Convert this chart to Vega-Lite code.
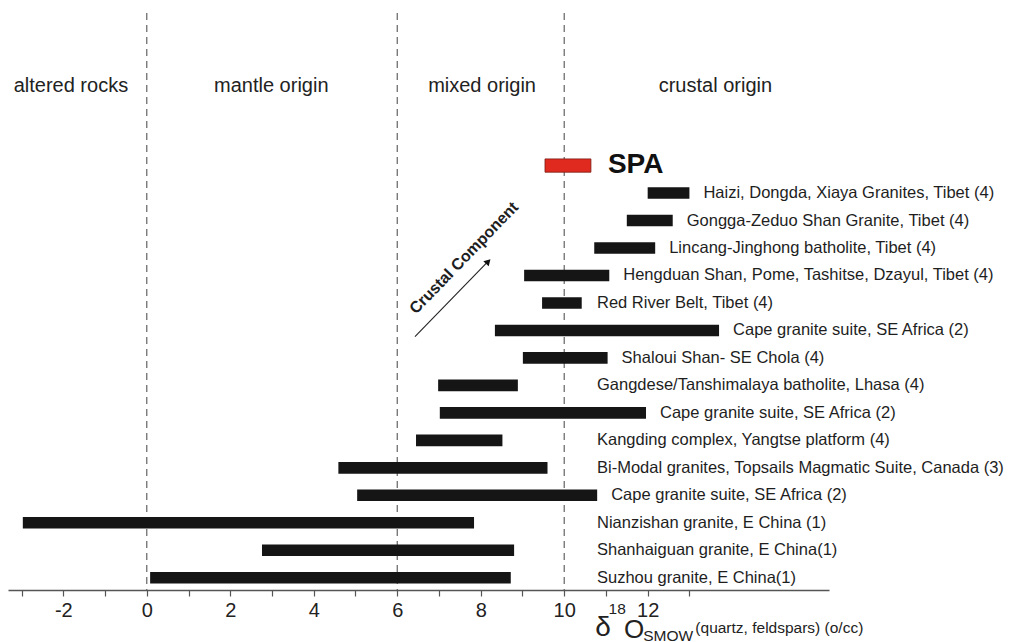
{
  "$schema": "https://vega.github.io/schema/vega-lite/v6.json",
  "width": 821,
  "height": 577,
  "autosize": "none",
  "padding": {"left": 8, "top": 13, "right": 182, "bottom": 52},
  "background": "white",
  "config": {
    "font": "Liberation Sans",
    "view": {"stroke": null}
  },
  "data": {
    "values": [
      {"id": 0, "label": "SPA", "lo": 9.54, "hi": 10.64},
      {"id": 1, "label": "Haizi, Dongda, Xiaya Granites, Tibet (4)", "lo": 12.0, "hi": 13.0},
      {"id": 2, "label": "Gongga-Zeduo Shan Granite, Tibet (4)", "lo": 11.5, "hi": 12.6},
      {"id": 3, "label": "Lincang-Jinghong batholite, Tibet (4)", "lo": 10.72, "hi": 12.18},
      {"id": 4, "label": "Hengduan Shan, Pome, Tashitse, Dzayul, Tibet (4)", "lo": 9.04, "hi": 11.08},
      {"id": 5, "label": "Red River Belt, Tibet (4)", "lo": 9.47, "hi": 10.42},
      {"id": 6, "label": "Cape granite suite, SE Africa (2)", "lo": 8.34, "hi": 13.71},
      {"id": 7, "label": "Shaloui Shan- SE Chola (4)", "lo": 9.01, "hi": 11.04},
      {"id": 8, "label": "Gangdese/Tanshimalaya batholite, Lhasa (4)", "lo": 6.98, "hi": 8.89},
      {"id": 9, "label": "Cape granite suite, SE Africa (2)", "lo": 7.02, "hi": 11.96},
      {"id": 10, "label": "Kangding complex, Yangtse platform (4)", "lo": 6.45, "hi": 8.52},
      {"id": 11, "label": "Bi-Modal granites, Topsails Magmatic Suite, Canada (3)", "lo": 4.59, "hi": 9.6},
      {"id": 12, "label": "Cape granite suite, SE Africa (2)", "lo": 5.04, "hi": 10.79},
      {"id": 13, "label": "Nianzishan granite, E China (1)", "lo": -2.97, "hi": 7.84},
      {"id": 14, "label": "Shanhaiguan granite, E China(1)", "lo": 2.76, "hi": 8.8},
      {"id": 15, "label": "Suzhou granite, E China(1)", "lo": 0.08, "hi": 8.72}
    ]
  },
  "resolve": {"axis": {"x": "independent"}},
  "layer": [
    {
      "description": "Dashed boundaries between origin fields, with the field names on a top axis",
      "data": {"values": [{"boundary": 0}, {"boundary": 6}, {"boundary": 10}]},
      "mark": {"type": "rule", "strokeDash": [7, 5], "color": "#555555", "strokeWidth": 1.1},
      "encoding": {
        "x": {
          "field": "boundary",
          "type": "quantitative",
          "scale": {"domain": [-3.325, 16.344], "nice": false, "zero": false},
          "axis": {
            "orient": "top",
            "values": [-1.83, 2.97, 8.02, 13.61],
            "labelExpr": "datum.value < 0 ? 'altered rocks' : datum.value < 5 ? 'mantle origin' : datum.value < 10 ? 'mixed origin' : 'crustal origin'",
            "ticks": false,
            "domain": false,
            "grid": false,
            "title": null,
            "offset": -78,
            "labelPadding": 0,
            "labelBaseline": "alphabetic",
            "labelAlign": "center",
            "labelFontSize": 20,
            "labelColor": "#222222",
            "labelFlush": false,
            "labelOverlap": false,
            "labelBound": false
          }
        }
      }
    },
    {
      "description": "Published ranges",
      "transform": [{"filter": "datum.id > 0"}],
      "mark": {"type": "bar", "color": "#151515"},
      "encoding": {
        "x": {
          "field": "lo",
          "type": "quantitative",
          "scale": {"domain": [-3.325, 16.344], "nice": false, "zero": false},
          "axis": {
            "orient": "bottom",
            "values": [-3, -2, -1, 0, 1, 2, 3, 4, 5, 6, 7, 8, 9, 10, 11, 12, 13, 10.73, 11.05, 11.42, 11.88, 13.13],
            "labelExpr": "datum.value == 10.73 ? 'δ' : datum.value == 11.05 ? '18' : datum.value == 11.42 ? 'O' : datum.value == 11.88 ? 'SMOW' : datum.value == 13.13 ? '(quartz, feldspars) (o/cc)' : (datum.value % 2 == 0 ? '' + datum.value : '')",
            "grid": false,
            "title": null,
            "domainColor": "#555555",
            "domainWidth": 1.3,
            "tickColor": "#555555",
            "tickWidth": 1.2,
            "tickSize": 6,
            "tickOpacity": {"condition": {"test": "datum.value % 1 != 0", "value": 0}, "value": 1},
            "labelColor": "#222222",
            "labelBaseline": "alphabetic",
            "labelAlign": {"condition": {"test": "datum.value % 1 != 0", "value": "left"}, "value": "center"},
            "labelFontSize": {
              "condition": [
                {"test": "datum.value == 10.73", "value": 28},
                {"test": "datum.value == 11.42", "value": 26},
                {"test": "datum.value % 1 != 0", "value": 15.5}
              ],
              "value": 20
            },
            "labelPadding": {
              "condition": [
                {"test": "datum.value == 10.73", "value": 39},
                {"test": "datum.value == 11.42", "value": 41},
                {"test": "datum.value == 11.05", "value": 17},
                {"test": "datum.value == 11.88", "value": 44},
                {"test": "datum.value == 13.13", "value": 36}
              ],
              "value": 20
            },
            "labelFlush": false,
            "labelOverlap": false,
            "labelBound": false
          }
        },
        "x2": {"field": "hi"},
        "y": {
          "field": "id",
          "type": "ordinal",
          "axis": null,
          "scale": {"type": "band", "domain": [0, 1, 2, 3, 4, 5, 6, 7, 8, 9, 10, 11, 12, 13, 14, 15], "range": [146.75, 570.55], "paddingInner": 0.578, "paddingOuter": 0}
        }
      }
    },
    {
      "description": "Range names",
      "transform": [
        {"filter": "datum.id > 0"},
        {"calculate": "max(datum.hi, 10.45)", "as": "anchor"}
      ],
      "mark": {"type": "text", "align": "left", "baseline": "middle", "dx": 14, "fontSize": 16.5, "color": "#1e1e1e"},
      "encoding": {
        "x": {"field": "anchor", "type": "quantitative", "axis": null, "scale": {"domain": [-3.325, 16.344], "nice": false, "zero": false}},
        "y": {
          "field": "id",
          "type": "ordinal",
          "axis": null,
          "scale": {"type": "band", "domain": [0, 1, 2, 3, 4, 5, 6, 7, 8, 9, 10, 11, 12, 13, 14, 15], "range": [146.75, 570.55], "paddingInner": 0.578, "paddingOuter": 0}
        },
        "text": {"field": "label"}
      }
    },
    {
      "description": "SPA range",
      "transform": [{"filter": "datum.id == 0"}],
      "mark": {"type": "bar", "color": "#e02a1f", "stroke": "#7a1a12", "strokeWidth": 0.8, "height": 13.3},
      "encoding": {
        "x": {"field": "lo", "type": "quantitative", "axis": null, "scale": {"domain": [-3.325, 16.344], "nice": false, "zero": false}},
        "x2": {"field": "hi"},
        "y": {
          "field": "id",
          "type": "ordinal",
          "axis": null,
          "scale": {"type": "band", "domain": [0, 1, 2, 3, 4, 5, 6, 7, 8, 9, 10, 11, 12, 13, 14, 15], "range": [146.75, 570.55], "paddingInner": 0.578, "paddingOuter": 0}
        }
      }
    },
    {
      "description": "SPA name",
      "transform": [{"filter": "datum.id == 0"}],
      "mark": {"type": "text", "align": "left", "baseline": "middle", "dx": 17, "dy": -1, "fontSize": 28, "fontWeight": "bold", "color": "#111111"},
      "encoding": {
        "x": {"field": "hi", "type": "quantitative", "axis": null, "scale": {"domain": [-3.325, 16.344], "nice": false, "zero": false}},
        "y": {
          "field": "id",
          "type": "ordinal",
          "axis": null,
          "scale": {"type": "band", "domain": [0, 1, 2, 3, 4, 5, 6, 7, 8, 9, 10, 11, 12, 13, 14, 15], "range": [146.75, 570.55], "paddingInner": 0.578, "paddingOuter": 0}
        },
        "text": {"field": "label"}
      }
    },
    {
      "description": "Trend arrow shaft",
      "data": {"values": [{"note": "Crustal Component"}]},
      "mark": {"type": "rule", "color": "#222222", "strokeWidth": 1.1, "yOffset": 6.3, "y2Offset": 12.5},
      "encoding": {
        "x": {"datum": 6.425, "type": "quantitative", "axis": null, "scale": {"domain": [-3.325, 16.344], "nice": false, "zero": false}},
        "x2": {"datum": 8.2},
        "y": {"datum": 6, "type": "ordinal", "axis": null, "scale": {"type": "band", "domain": [0, 1, 2, 3, 4, 5, 6, 7, 8, 9, 10, 11, 12, 13, 14, 15], "range": [146.75, 570.55], "paddingInner": 0.578, "paddingOuter": 0}},
        "y2": {"datum": 3}
      }
    },
    {
      "description": "Trend arrow head",
      "data": {"values": [{"note": "Crustal Component"}]},
      "mark": {"type": "point", "shape": "triangle-up", "filled": true, "color": "#111111", "size": 55, "angle": 44, "opacity": 1, "yOffset": 13.5},
      "encoding": {
        "x": {"datum": 8.18, "type": "quantitative", "axis": null, "scale": {"domain": [-3.325, 16.344], "nice": false, "zero": false}},
        "y": {"datum": 3, "type": "ordinal", "axis": null, "scale": {"type": "band", "domain": [0, 1, 2, 3, 4, 5, 6, 7, 8, 9, 10, 11, 12, 13, 14, 15], "range": [146.75, 570.55], "paddingInner": 0.578, "paddingOuter": 0}}
      }
    },
    {
      "description": "Trend arrow caption",
      "data": {"values": [{"note": "Crustal Component"}]},
      "mark": {"type": "text", "align": "center", "baseline": "middle", "angle": -46, "fontSize": 16, "fontWeight": "bold", "color": "#1e1e1e", "yOffset": 10},
      "encoding": {
        "x": {"datum": 7.6, "type": "quantitative", "axis": null, "scale": {"domain": [-3.325, 16.344], "nice": false, "zero": false}},
        "y": {"datum": 3, "type": "ordinal", "axis": null, "scale": {"type": "band", "domain": [0, 1, 2, 3, 4, 5, 6, 7, 8, 9, 10, 11, 12, 13, 14, 15], "range": [146.75, 570.55], "paddingInner": 0.578, "paddingOuter": 0}},
        "text": {"field": "note"}
      }
    }
  ]
}
